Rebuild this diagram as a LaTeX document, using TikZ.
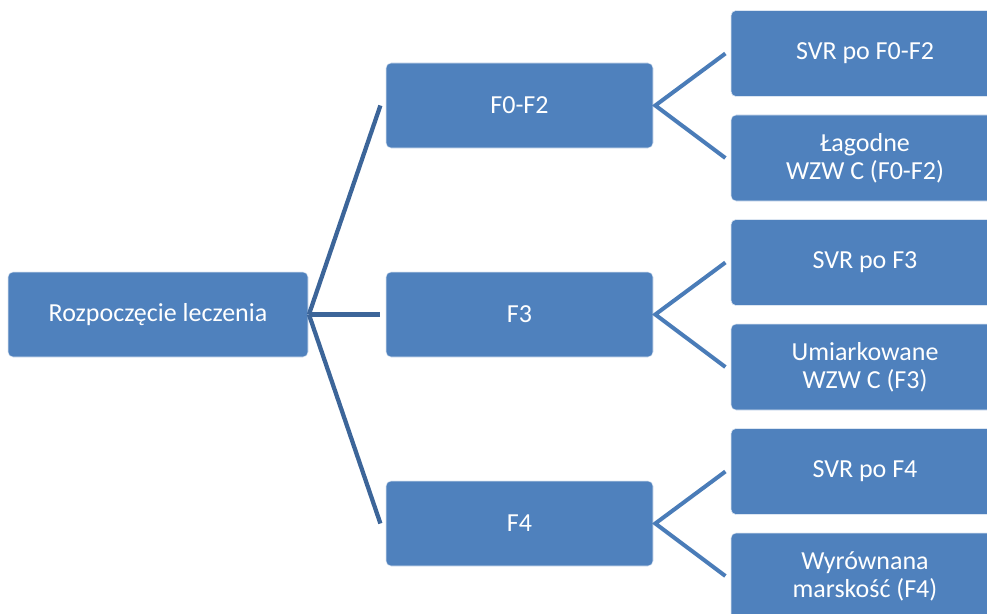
\documentclass[tikz,border=0pt]{standalone}
\usepackage{fontspec}
\setmainfont{Carlito}
\definecolor{boxblue}{HTML}{4F81BD}
\definecolor{linkdark}{HTML}{3C6599}
\definecolor{linklight}{HTML}{4A7CB8}
\tikzset{
  every picture/.style={line cap=butt, line join=miter},
  px/.style={x=0.75pt, y=-0.75pt},
  % boxes of the tree
  box/.style={draw=white!80!boxblue, thin, fill=boxblue, rounded corners=3.75pt,
    text=white, align=center, font=\fontsize{19.5}{21}\selectfont, inner sep=0pt,
    minimum height=63.75pt},
  rootbox/.style={box, minimum width=225pt},
  midbox/.style={box, minimum width=200.25pt},
  leafbox/.style={box, minimum width=201pt, minimum height=64.5pt},
  % connectors
  link/.style={linkdark, line width=3.2pt},
  sublink/.style={linklight, line width=3pt},
}

\begin{document}
\begin{tikzpicture}[px]
  \useasboundingbox (0,0) rectangle (987,613);
  \clip (0,0) rectangle (987,613);
  \node[rootbox] (root) at (158,314.5) {Rozpoczęcie leczenia};
  \node[midbox] (f02) at (519.5,105.5) {F0-F2};
  \node[midbox] (f3) at (519.5,314.5) {F3};
  \node[midbox] (f4) at (519.5,523.5) {F4};
  % right column
  \node[leafbox] (svr02) at (865,53.5) {SVR po F0-F2};
  \node[leafbox] (lag) at (865,158) {Łagodne\\WZW C (F0-F2)};
  \node[leafbox] (svr3) at (865,262.5) {SVR po F3};
  \node[leafbox] (umi) at (865,367) {Umiarkowane\\WZW C (F3)};
  \node[leafbox] (svr4) at (865,471.5) {SVR po F4};
  \node[leafbox] (wyr) at (865,576) {Wyrównana\\marskość (F4)};
  % first level
  \foreach \m in {f02,f3,f4}
    \draw[link] ([xshift=0.5pt]root.east) -- ([xshift=-4pt]\m.west);
  % second level
  \foreach \m/\a/\b in {f02/svr02/lag, f3/svr3/umi, f4/svr4/wyr}{
    \draw[sublink] ([xshift=-4pt]\a.west) -- ([xshift=1.5pt]\m.east) -- ([xshift=-4pt]\b.west);}
\end{tikzpicture}
\end{document}
